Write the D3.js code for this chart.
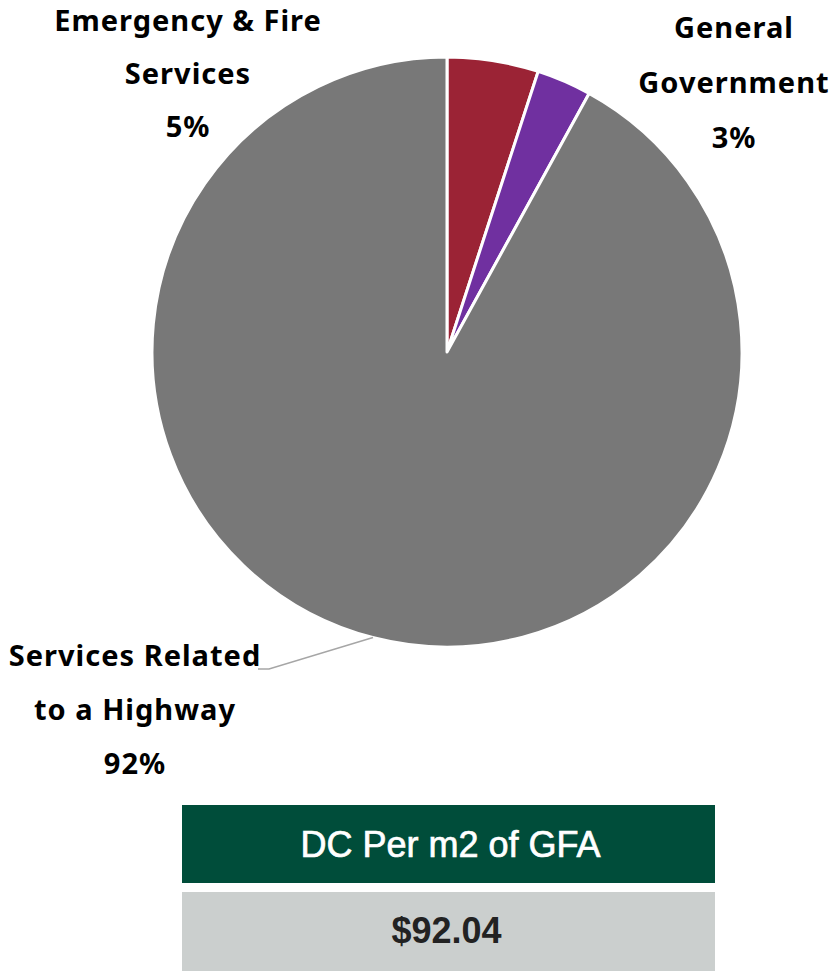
<!DOCTYPE html>
<html>
<head>
<meta charset="utf-8">
<script src="https://cdn.jsdelivr.net/npm/d3@7"></script>
<style>
  html, body { margin: 0; padding: 0; background: #fff; }
  svg { display: block; }
</style>
</head>
<body>
<svg id="chart" width="830" height="971"></svg>
<script>
// Development charge share by service category
const categories = ["Emergency & Fire Services", "General Government", "Services Related to a Highway"];
const shares = [5, 3, 92];
const sliceColors = ["#9B2335", "#7030A0", "#787878"];
const labelLines = [
  ["Emergency & Fire", "Services", "5%"],
  ["General", "Government", "3%"],
  ["Services Related", "to a Highway", "92%"]
];
const tableHeader = "DC Per m2 of GFA";
const tableValue = "$92.04";

const svg = d3.select("#chart");
const cx = 447, cy = 352, r = 295;
const labelFont = "'Noto Sans', sans-serif";
const tableFont = "'Liberation Sans', Arial, sans-serif";

const data = categories.map((c, i) => ({ name: c, value: shares[i], color: sliceColors[i], lines: labelLines[i] }));

const pie = d3.pie().value(d => d.value).sort(null);
const arc = d3.arc().innerRadius(0).outerRadius(r);
const arcs = pie(data);

const g = svg.append("g").attr("transform", `translate(${cx},${cy})`);
g.selectAll("path.slice")
  .data(arcs)
  .join("path")
  .attr("class", "slice")
  .attr("d", arc)
  .attr("fill", d => d.data.color)
  .attr("stroke", "#fff")
  .attr("stroke-width", 3)
  .attr("stroke-linejoin", "round");

// Label placements (center x, first baseline, line step)
const labelPos = [
  { x: 188, y: 31, step: 53 },
  { x: 734, y: 38, step: 55 },
  { x: 135, y: 666, step: 54 }
];

data.forEach((d, i) => {
  const p = labelPos[i];
  const t = svg.append("text")
    .attr("x", p.x)
    .attr("y", p.y)
    .attr("text-anchor", "middle")
    .attr("font-family", labelFont)
    .attr("font-weight", 700)
    .attr("font-size", 29)
    .attr("letter-spacing", 1)
    .attr("fill", "#000");
  d.lines.forEach((ln, k) => {
    t.append("tspan").attr("x", p.x).attr("y", p.y + k * p.step).text(ln);
  });
});

// Leader line for the highway slice, starting on its rim
const edgeAngle = 3.395; // radians, clockwise from 12 o'clock
const [ex, ey] = [cx + r * Math.sin(edgeAngle), cy - r * Math.cos(edgeAngle)];
svg.append("polyline")
  .attr("points", `${ex},${ey} 269,669 258,669`)
  .attr("fill", "none")
  .attr("stroke", "#A6A6A6")
  .attr("stroke-width", 1.5);

// Summary table
const tx = 182, tw = 533;
svg.append("rect").attr("x", tx).attr("y", 805).attr("width", tw).attr("height", 78).attr("fill", "#004D3A");
svg.append("rect").attr("x", tx).attr("y", 892).attr("width", tw).attr("height", 79).attr("fill", "#CBCFCE");
svg.append("text")
  .attr("x", tx + tw / 2 + 2).attr("y", 857)
  .attr("text-anchor", "middle")
  .attr("font-family", tableFont).attr("font-weight", 400).attr("font-size", 36)
  .attr("fill", "#fff")
  .attr("stroke", "#fff").attr("stroke-width", 0.7)
  .text(tableHeader);
svg.append("text")
  .attr("x", tx + tw / 2 - 2).attr("y", 943)
  .attr("text-anchor", "middle")
  .attr("font-family", tableFont).attr("font-weight", 700).attr("font-size", 36)
  .attr("fill", "#222")
  .text(tableValue);
</script>
</body>
</html>
